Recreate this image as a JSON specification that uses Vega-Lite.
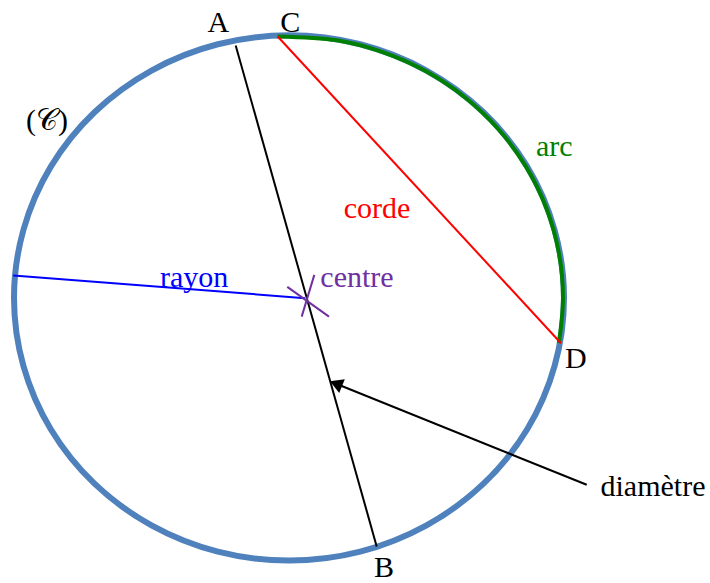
{
  "$schema": "https://vega.github.io/schema/vega-lite/v6.json",
  "autosize": {"type": "fit", "contains": "padding"},
  "width": 710,
  "height": 583,
  "padding": 0,
  "background": "white",
  "config": {"view": {"stroke": null}},
  "datasets": {
    "cercle": [
      {"o": 0, "x": 564, "y": 299.5}, {"o": 1, "x": 554.6, "y": 231.2}, {"o": 2, "x": 527.2, "y": 167.5},
      {"o": 3, "x": 483.5, "y": 112.8}, {"o": 4, "x": 426.5, "y": 70.9}, {"o": 5, "x": 360.2, "y": 44.5},
      {"o": 6, "x": 289, "y": 35.5}, {"o": 7, "x": 217.8, "y": 44.5}, {"o": 8, "x": 151.5, "y": 70.9},
      {"o": 9, "x": 94.5, "y": 112.8}, {"o": 10, "x": 50.8, "y": 167.5}, {"o": 11, "x": 23.4, "y": 231.2},
      {"o": 12, "x": 14, "y": 299.5}, {"o": 13, "x": 23.4, "y": 367.8}, {"o": 14, "x": 50.8, "y": 431.5},
      {"o": 15, "x": 94.5, "y": 486.2}, {"o": 16, "x": 151.5, "y": 528.1}, {"o": 17, "x": 217.8, "y": 554.5},
      {"o": 18, "x": 289, "y": 563.5}, {"o": 19, "x": 360.2, "y": 554.5}, {"o": 20, "x": 426.5, "y": 528.1},
      {"o": 21, "x": 483.5, "y": 486.2}, {"o": 22, "x": 527.2, "y": 431.5}, {"o": 23, "x": 554.6, "y": 367.8}
    ],
    "arc": [
      {"o": 0, "x": 277.5, "y": 36.7}, {"o": 1, "x": 336.6, "y": 40.5}, {"o": 2, "x": 382.7, "y": 52.4},
      {"o": 3, "x": 426, "y": 71.7}, {"o": 4, "x": 465.1, "y": 98.0}, {"o": 5, "x": 498.9, "y": 130.4},
      {"o": 6, "x": 526.3, "y": 168}, {"o": 7, "x": 546.5, "y": 209.5}, {"o": 8, "x": 558.8, "y": 253.8},
      {"o": 9, "x": 563, "y": 299.5}, {"o": 10, "x": 558.9, "y": 344.7}
    ],
    "segments": [
      {"part": "diametre", "x": 235.7, "y": 45.7, "x2": 376.7, "y2": 549.3},
      {"part": "corde", "x": 277.7, "y": 36.7, "x2": 561, "y2": 345},
      {"part": "rayon", "x": 13.3, "y": 277, "x2": 305, "y2": 299.7},
      {"part": "centre", "x": 314.3, "y": 276.3, "x2": 301.7, "y2": 318.3},
      {"part": "centre", "x": 287.3, "y": 288.3, "x2": 329, "y2": 318.3},
      {"part": "diametre", "x": 586.7, "y": 487.3, "x2": 338, "y2": 386.5}
    ],
    "fleche": [
      {"part": "diametre", "x": 336, "y": 385.7}
    ],
    "labels": [
      {"part": "point", "text": "A", "x": 218.3, "y": 31.7},
      {"part": "point", "text": "C", "x": 290.3, "y": 31.7},
      {"part": "point", "text": "D", "x": 575.8, "y": 370},
      {"part": "point", "text": "B", "x": 384, "y": 580},
      {"part": "rayon", "text": "rayon", "x": 194.2, "y": 288.3},
      {"part": "centre", "text": "centre", "x": 357, "y": 288.3},
      {"part": "corde", "text": "corde", "x": 377, "y": 219.3},
      {"part": "arc", "text": "arc", "x": 554.2, "y": 156.7},
      {"part": "point", "text": "diamètre", "x": 653, "y": 498.3},
      {"part": "point", "text": "(𝒞)", "x": 47, "y": 131}
    ]
  },
  "layer": [
    {
      "data": {"name": "cercle"},
      "mark": {"type": "line", "interpolate": "cardinal-closed", "stroke": "#4f81bd", "strokeWidth": 6},
      "encoding": {
        "x": {"field": "x", "type": "quantitative", "scale": {"domain": [0, 710], "nice": false, "zero": false}, "axis": null},
        "y": {"field": "y", "type": "quantitative", "scale": {"domain": [0, 583], "nice": false, "zero": false, "reverse": true}, "axis": null},
        "order": {"field": "o"}
      }
    },
    {
      "data": {"name": "arc"},
      "mark": {"type": "line", "interpolate": "cardinal", "stroke": "#008000", "strokeWidth": 4},
      "encoding": {
        "x": {"field": "x", "type": "quantitative"},
        "y": {"field": "y", "type": "quantitative"},
        "order": {"field": "o"}
      }
    },
    {
      "data": {"name": "segments"},
      "mark": {"type": "rule", "strokeWidth": 2},
      "encoding": {
        "x": {"field": "x", "type": "quantitative"},
        "y": {"field": "y", "type": "quantitative"},
        "x2": {"field": "x2"},
        "y2": {"field": "y2"},
        "color": {"field": "part", "type": "nominal", "legend": null,
          "scale": {"domain": ["diametre", "corde", "rayon", "centre", "arc", "point"],
                    "range": ["#000000", "#ff0000", "#0000ff", "#7030a0", "#008000", "#000000"]}}
      }
    },
    {
      "data": {"name": "fleche"},
      "mark": {"type": "point", "shape": "triangle-up", "filled": true, "size": 225, "angle": 292, "color": "#000000", "opacity": 1},
      "encoding": {
        "x": {"field": "x", "type": "quantitative"},
        "y": {"field": "y", "type": "quantitative"}
      }
    },
    {
      "data": {"name": "labels"},
      "mark": {"type": "text", "font": "Times New Roman, Liberation Serif, DejaVu Serif, serif", "fontSize": 30, "align": "center", "baseline": "alphabetic"},
      "encoding": {
        "x": {"field": "x", "type": "quantitative"},
        "y": {"field": "y", "type": "quantitative"},
        "text": {"field": "text"},
        "color": {"field": "part", "type": "nominal", "legend": null}
      }
    }
  ]
}
